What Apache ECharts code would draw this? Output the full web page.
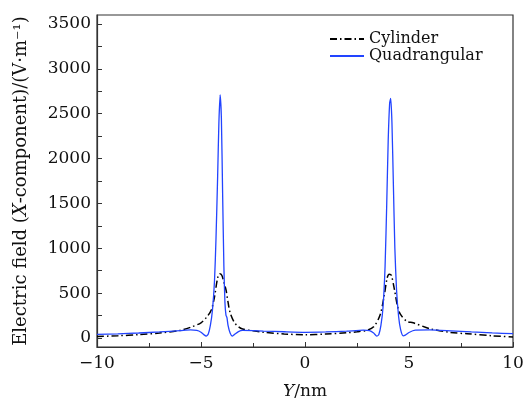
<!DOCTYPE html>
<html>
<head>
<meta charset="utf-8">
<script src="https://cdn.jsdelivr.net/npm/echarts@6/dist/echarts.min.js"></script>
<style>
html, body { margin: 0; padding: 0; background: #fff; }
#main { width: 529px; height: 405px; }
</style>
</head>
<body>
<div id="main"></div>
<script>
// Y position (nm) and field values
const quadX = [-10, -9, -8, -7, -6, -5.5, -5.2, -5.0, -4.85, -4.75, -4.65, -4.55, -4.45, -4.35, -4.28, -4.2, -4.14, -4.08, -4.02, -3.96, -3.9, -3.85, -3.8, -3.75, -3.7, -3.6, -3.5, -3.4, -3.2, -3.0, -2.5, -2, -1, 0, 1, 2, 2.8, 3.1, 3.3, 3.45, 3.55, 3.65, 3.75, 3.85, 3.93, 4.0, 4.07, 4.12, 4.18, 4.25, 4.32, 4.4, 4.5, 4.6, 4.72, 4.82, 5.0, 5.3, 6, 7, 8, 9, 10];
const quadY = [40, 47, 56, 68, 82, 90, 85, 65, 35, 22, 45, 140, 310, 640, 1100, 1800, 2400, 2710, 2450, 1600, 800, 400, 255, 225, 140, 55, 22, 38, 72, 85, 83, 78, 70, 64, 68, 76, 88, 82, 55, 22, 40, 140, 340, 800, 1500, 2200, 2620, 2670, 2400, 1700, 1000, 540, 240, 90, 24, 32, 62, 88, 90, 80, 68, 57, 48];

const cylX = [-10, -9, -8, -7, -6, -5.5, -5.0, -4.7, -4.5, -4.35, -4.2, -4.1, -4.0, -3.9, -3.8, -3.7, -3.6, -3.4, -3.2, -3.0, -2.5, -2, -1, 0, 1, 2, 2.5, 3.0, 3.3, 3.6, 3.8, 3.95, 4.05, 4.15, 4.3, 4.45, 4.6, 4.9, 5.2, 6, 7, 7.8, 9, 10];
const cylY = [18, 25, 38, 55, 85, 120, 170, 240, 315, 460, 670, 716, 700, 620, 538, 400, 282, 175, 126, 100, 80, 64, 45, 37, 44, 58, 70, 88, 125, 250, 460, 670, 712, 700, 540, 352, 260, 185, 170, 104, 62, 48, 25, 11];

const yTicks = [0, 250, 500, 750, 1000, 1250, 1500, 1750, 2000, 2250, 2500, 2750, 3000, 3250, 3500];
const yLabels = [0, 500, 1000, 1500, 2000, 2500, 3000, 3500];

const pairs = (xs, ys) => xs.map((x, i) => [x, ys[i]]);

let chartDom = document.getElementById('main');
let myChart = echarts.init(chartDom);
const serif = 'DejaVu Serif';
const axisCol = '#333';

let option = {
  animation: false,
  textStyle: { fontFamily: serif },
  grid: { left: 97, right: 16, top: 15, bottom: 58, show: true, borderColor: axisCol, borderWidth: 1.2 },
  legend: {
    orient: 'vertical',
    left: 324,
    top: 26,
    itemWidth: 34,
    itemHeight: 10,
    itemGap: 1,
    itemStyle: { opacity: 0 },
    textStyle: { fontFamily: serif, fontSize: 16, lineHeight: 14, color: '#111' },
    data: ['Cylinder', 'Quadrangular']
  },
  xAxis: {
    type: 'value',
    min: -10,
    max: 10,
    interval: 5,
    name: '{i|Y}{n|/nm}',
    nameLocation: 'middle',
    nameGap: 36,
    nameTextStyle: {
      rich: {
        i: { fontFamily: serif, fontStyle: 'italic', fontSize: 17, color: '#111' },
        n: { fontFamily: serif, fontSize: 17, color: '#111' }
      }
    },
    axisLine: { onZero: false, lineStyle: { color: axisCol, width: 1.2 } },
    axisTick: { inside: true, length: 5, lineStyle: { color: axisCol } },
    minorTick: { show: true, splitNumber: 2, length: 4, lineStyle: { color: axisCol } },
    splitLine: { show: false },
    axisLabel: {
      margin: 8,
      fontFamily: serif,
      fontSize: 17,
      color: '#111',
      formatter: v => String(v).replace('-', '\u2212')
    }
  },
  yAxis: {
    type: 'value',
    min: -100,
    max: 3600,
    name: '{n|Electric field (}{i|X}{n|-component)/(V·m⁻¹)}',
    nameLocation: 'middle',
    nameGap: 67,
    nameTextStyle: {
      rich: {
        i: { fontFamily: serif, fontStyle: 'italic', fontSize: 18, color: '#111' },
        n: { fontFamily: serif, fontSize: 18, color: '#111' }
      }
    },
    axisLine: { show: true, onZero: false, lineStyle: { color: axisCol, width: 1.2 } },
    axisTick: { inside: true, length: 5, customValues: yTicks, lineStyle: { color: axisCol } },
    splitLine: { show: false },
    axisLabel: {
      margin: 6,
      fontFamily: serif,
      fontSize: 17,
      color: '#111',
      customValues: yLabels,
      formatter: v => String(v)
    }
  },
  series: [
    {
      name: 'Cylinder',
      type: 'line',
      data: pairs(cylX, cylY),
      showSymbol: false,
      symbol: 'none',
      smooth: 0.3,
      lineStyle: { color: '#000', width: 1.5, type: [7, 3, 1.5, 3] },
      itemStyle: { color: '#000' },
      z: 2
    },
    {
      name: 'Quadrangular',
      type: 'line',
      data: pairs(quadX, quadY),
      showSymbol: false,
      symbol: 'none',
      smooth: 0.2,
      lineStyle: { color: '#2244ff', width: 1.3 },
      itemStyle: { color: '#2244ff' },
      z: 3
    }
  ]
};
option && myChart.setOption(option);
</script>
</body>
</html>
